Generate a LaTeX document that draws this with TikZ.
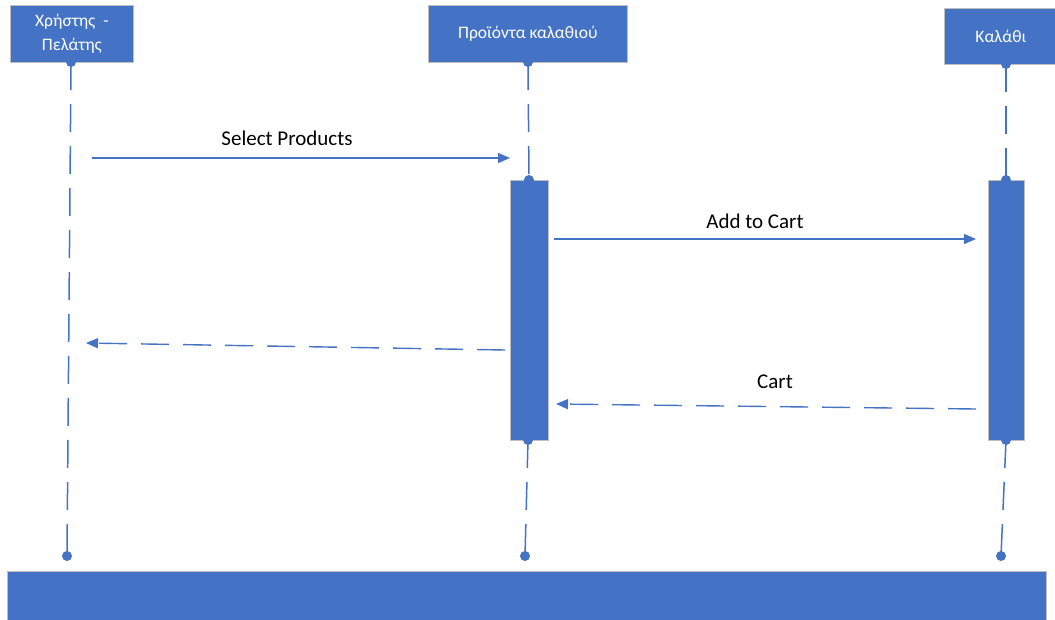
\documentclass[tikz,border=0pt]{standalone}
\usepackage{fontspec}
\setmainfont{Carlito}
\usetikzlibrary{arrows.meta}
\definecolor{blu}{HTML}{4472C4}
\definecolor{brd}{HTML}{BFBFBF}
\begin{document}
\begin{tikzpicture}[x=1pt,y=-1pt,
 obj/.style={fill=blu,draw=brd,line width=0.8pt,text=white,font=\fontsize{17.5}{24}\selectfont,align=center,inner sep=0,anchor=north west},
 bar/.style={fill=blu,draw=brd,line width=0.8pt,inner sep=0,anchor=north west},
 life/.style={draw=blu,line width=1.5pt,dash pattern=on 28pt off 14pt},
 msg/.style={draw=blu,line width=1.4pt,-{Triangle[length=12pt,width=10pt]}},
 ret/.style={msg,dash pattern=on 28pt off 14pt},
 lbl/.style={font=\fontsize{21}{25}\selectfont,text=black},
 ldot/.style={fill=blu,circle,inner sep=0,minimum size=10pt}]
\useasboundingbox (0,0) rectangle (1055,619);
% lifeline end points
\coordinate (u0) at (71,62);
\coordinate (u1) at (67,556);
\coordinate (p0) at (528,62);
\coordinate (p1) at (529,180);
\coordinate (p2) at (528,440);
\coordinate (p3) at (525,556);
\coordinate (c0) at (1006,64);
\coordinate (c1) at (1006,180);
\coordinate (c2) at (1006,440);
\coordinate (c3) at (1001,556);
% lifelines
\draw[life] (u0) -- (u1);
\draw[life] (p0) -- (p1);
\draw[life] (p2) -- (p3);
\draw[life] (c0) -- (c1);
\draw[life] (c2) -- (c3);
% objects
\node[obj,minimum width=123pt,minimum height=57pt] (user) at (10,5) {Χρήστης \ -\\Πελάτης};
\node[obj,minimum width=199pt,minimum height=57pt] (prod) at (428,5) {Προϊόντα καλαθιού};
\node[obj,minimum width=113pt,minimum height=56pt] (cart) at (944,8) {Καλάθι};
% activation bars
\node[bar,minimum width=38pt,minimum height=260pt] (pbar) at (510,180) {};
\node[bar,minimum width=36pt,minimum height=260pt] (cbar) at (988,180) {};
% bottom bar
\node[bar,minimum width=1039pt,minimum height=52pt] (base) at (7,571) {};
% lifeline joints
\foreach \c in {u0,p0,p1,p2,c0,c1,c2} \fill[blu] (\c) circle (5pt);
\foreach \c in {u1,p3,c3} \node[ldot] at (\c) {};
% message ends
\coordinate (m1a) at (92,158);
\coordinate (m1b) at (510,158);
\coordinate (m2a) at (554,239);
\coordinate (m2b) at (976,239);
\coordinate (m3a) at (505,350);
\coordinate (m3b) at (86,343);
\coordinate (m4a) at (976,409);
\coordinate (m4b) at (556,404);
\draw[msg] (m1a) -- (m1b);
\draw[msg] (m2a) -- (m2b);
\draw[ret] (m3a) -- (m3b);
\draw[ret] (m4a) -- (m4b);
\node[lbl] (l1) at (287,138) {Select Products};
\node[lbl] (l2) at (755,221) {Add to Cart};
\node[lbl] (l4) at (775,382) {Cart};
\end{tikzpicture}
\end{document}
